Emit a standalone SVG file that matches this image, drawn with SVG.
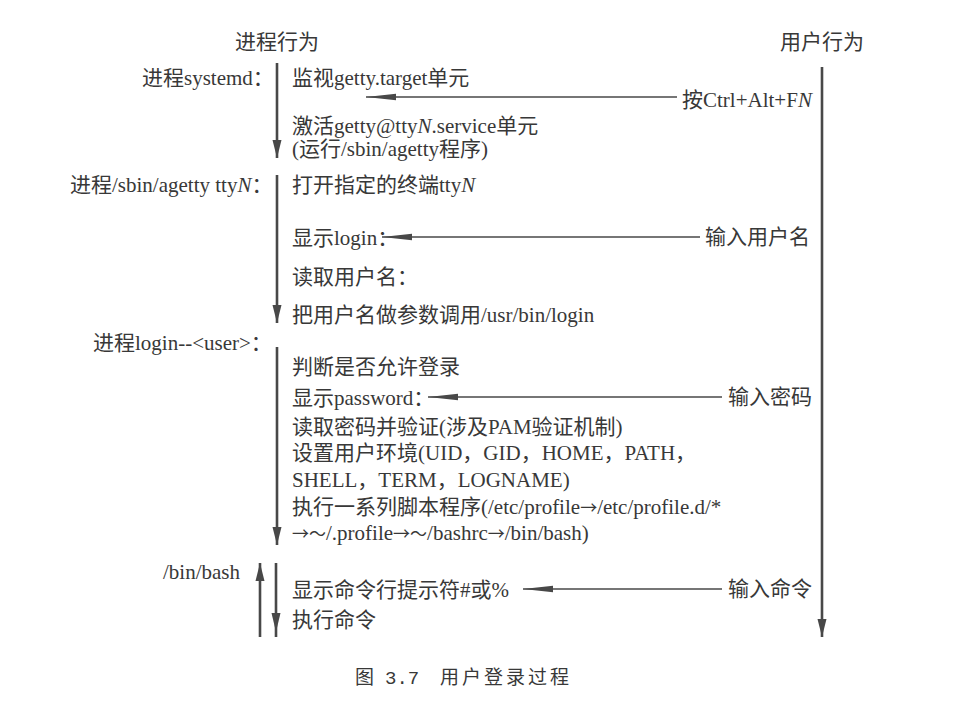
<svg xmlns="http://www.w3.org/2000/svg" width="962" height="710" viewBox="0 0 962 710">
<style>
text{font-family:"Liberation Serif","Noto Sans CJK SC",serif;font-size:21px;fill:#383838}
.i{font-style:italic}
.ar{font-family:"Noto Sans CJK SC",sans-serif;font-size:17px}
.v{stroke:#484848;stroke-width:2.6;fill:none}
.h{stroke:#484848;stroke-width:1.4;fill:none}
.cap{font-size:19px}
.mono{font-family:"Liberation Mono",monospace}
.sp{letter-spacing:3px}
</style>
<defs>
<marker id="av" markerUnits="userSpaceOnUse" markerWidth="20" markerHeight="12" refX="18" refY="6" orient="auto-start-reverse" viewBox="0 0 20 12">
<path d="M0 1.5 L0 10.5 L18 6 Z" fill="#484848"/>
</marker>
<marker id="ah" markerUnits="userSpaceOnUse" markerWidth="32" markerHeight="10" refX="0" refY="5" orient="0" viewBox="0 0 32 10">
<path d="M0 5 L30 1.8 L30 8.2 Z" fill="#484848"/>
</marker>
</defs>
<rect width="962" height="710" fill="#fff"/>
<g id="titles">
<text x="235" y="49">进程行为</text>
<text x="780" y="49">用户行为</text>
</g>
<g id="connectors">
<path class="v" d="M277 63 V158" marker-end="url(#av)"/>
<path class="v" d="M277 175 V323" marker-end="url(#av)"/>
<path class="v" d="M277 347 V545" marker-end="url(#av)"/>
<path class="v" d="M260 637 V563" marker-end="url(#av)"/>
<path class="v" d="M276 563 V637"/>
<path d="M271.5 613 L280.5 613 L276 632 Z" fill="#484848"/>
<path class="v" d="M822 67 V637" marker-end="url(#av)"/>
<path class="h" d="M677 97 H366" marker-end="url(#ah)"/>
<path class="h" d="M700 237 H382" marker-end="url(#ah)"/>
<path class="h" d="M722 397 H428" marker-end="url(#ah)"/>
<path class="h" d="M722 589 H523" marker-end="url(#ah)"/>
</g>
<g id="node-systemd">
<text x="142" y="85">进程systemd：</text>
<text x="292" y="85">监视getty.target单元</text>
<text x="292" y="133">激活getty@tty<tspan class="i">N</tspan>.service单元</text>
<text x="292" y="156">(运行/sbin/agetty程序)</text>
</g>
<g id="node-agetty">
<text x="70" y="192">进程/sbin/agetty tty<tspan class="i">N</tspan>：</text>
<text x="292" y="192">打开指定的终端tty<tspan class="i">N</tspan></text>
<text x="292" y="245">显示login：</text>
<text x="292" y="284">读取用户名：</text>
<text x="292" y="322">把用户名做参数调用/usr/bin/login</text>
</g>
<g id="node-login">
<text x="93" y="350">进程login--&lt;user&gt;：</text>
<text x="292" y="374">判断是否允许登录</text>
<text x="292" y="405">显示password：</text>
<text x="292" y="434">读取密码并验证(涉及PAM验证机制)</text>
<text x="292" y="460">设置用户环境(UID，GID，HOME，PATH，</text>
<text x="292" y="487">SHELL，TERM，LOGNAME)</text>
<text x="292" y="514">执行一系列脚本程序(/etc/profile<tspan class="ar">→</tspan>/etc/profile.d/*</text>
<text x="292" y="540"><tspan class="ar">→～</tspan>/.profile<tspan class="ar">→～</tspan>/bashrc<tspan class="ar">→</tspan>/bin/bash)</text>
</g>
<g id="node-bash">
<text x="163" y="579">/bin/bash</text>
<text x="292" y="597">显示命令行提示符#或%</text>
<text x="292" y="627">执行命令</text>
</g>
<g id="node-user">
<text x="682" y="107">按Ctrl+Alt+F<tspan class="i">N</tspan></text>
<text x="705" y="244">输入用户名</text>
<text x="728" y="404">输入密码</text>
<text x="728" y="596">输入命令</text>
</g>
<g id="caption">
<text class="cap" x="355" y="684">图<tspan class="mono" x="385">3.7</tspan><tspan class="sp" x="440">用户登录过程</tspan></text>
</g>
</svg>
